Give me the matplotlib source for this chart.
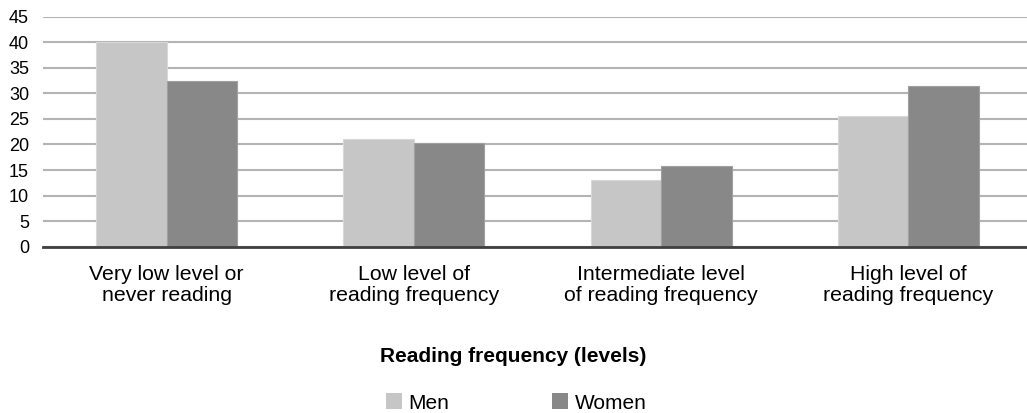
import matplotlib
matplotlib.use("Agg")
import matplotlib.pyplot as plt
import numpy as np
from matplotlib.patches import Patch

categories = ["Very low level or\nnever reading", "Low level of\nreading frequency",
              "Intermediate level\nof reading frequency", "High level of\nreading frequency"]
men = [40.0, 21.0, 13.0, 25.6]
women = [32.4, 20.2, 15.7, 31.4]
yticks = [0, 5, 10, 15, 20, 25, 30, 35, 40, 45]
series_names = ["Men", "Women"]

plt.rcParams['font.family'] = ['Liberation Sans', 'DejaVu Sans']

W, H = 1027, 413
fig = plt.figure(figsize=(W / 100, H / 100), dpi=100)
left, right = 43, 1032
top, bottom = 16.7, 246.7
ax = fig.add_axes([left / W, 1 - bottom / H, (right - left) / W, (bottom - top) / H])

x = np.arange(len(categories))
bw = 0.285
c_men = "#c6c6c6"
c_women = "#888888"
ax.bar(x - bw / 2, men, bw, color=c_men, edgecolor="#d8d8d8", linewidth=0.8, zorder=3)
ax.bar(x + bw / 2, women, bw, color=c_women, edgecolor="#a0a0a0", linewidth=0.8, zorder=3)

ax.set_xlim(-0.5, len(categories) - 0.5)
ax.set_ylim(0, 45)
ax.set_yticks(yticks)
ax.set_yticklabels([str(v) for v in yticks], fontsize=13)
ax.yaxis.grid(True, color="#b4b4b4", linewidth=1.5, zorder=0)
ax.set_axisbelow(True)
ax.set_xticks(x)
ax.set_xticklabels(categories, fontsize=15.3, linespacing=1.15)
ax.tick_params(axis='x', length=0, pad=13)
ax.tick_params(axis='y', length=0, pad=10)
for s in ["top", "right", "left"]:
    ax.spines[s].set_visible(False)
ax.spines["bottom"].set_color("#404040")
ax.spines["bottom"].set_linewidth(2)
ax.spines["bottom"].set_zorder(4)

fig.text(513.5 / W, 1 - 356 / H, "Reading frequency (levels)", ha="center", va="center",
         fontsize=15, fontweight="bold")

handles = [Patch(facecolor=c_men, edgecolor="none"), Patch(facecolor=c_women, edgecolor="none")]
fig.legend(handles, series_names, loc="center", bbox_to_anchor=(516 / W, 1 - 403 / H),
           ncol=2, frameon=False, fontsize=15, handlelength=0.8, handleheight=0.8,
           handletextpad=0.3, columnspacing=4.9, borderpad=0)

fig.savefig("out.png", dpi=100)
